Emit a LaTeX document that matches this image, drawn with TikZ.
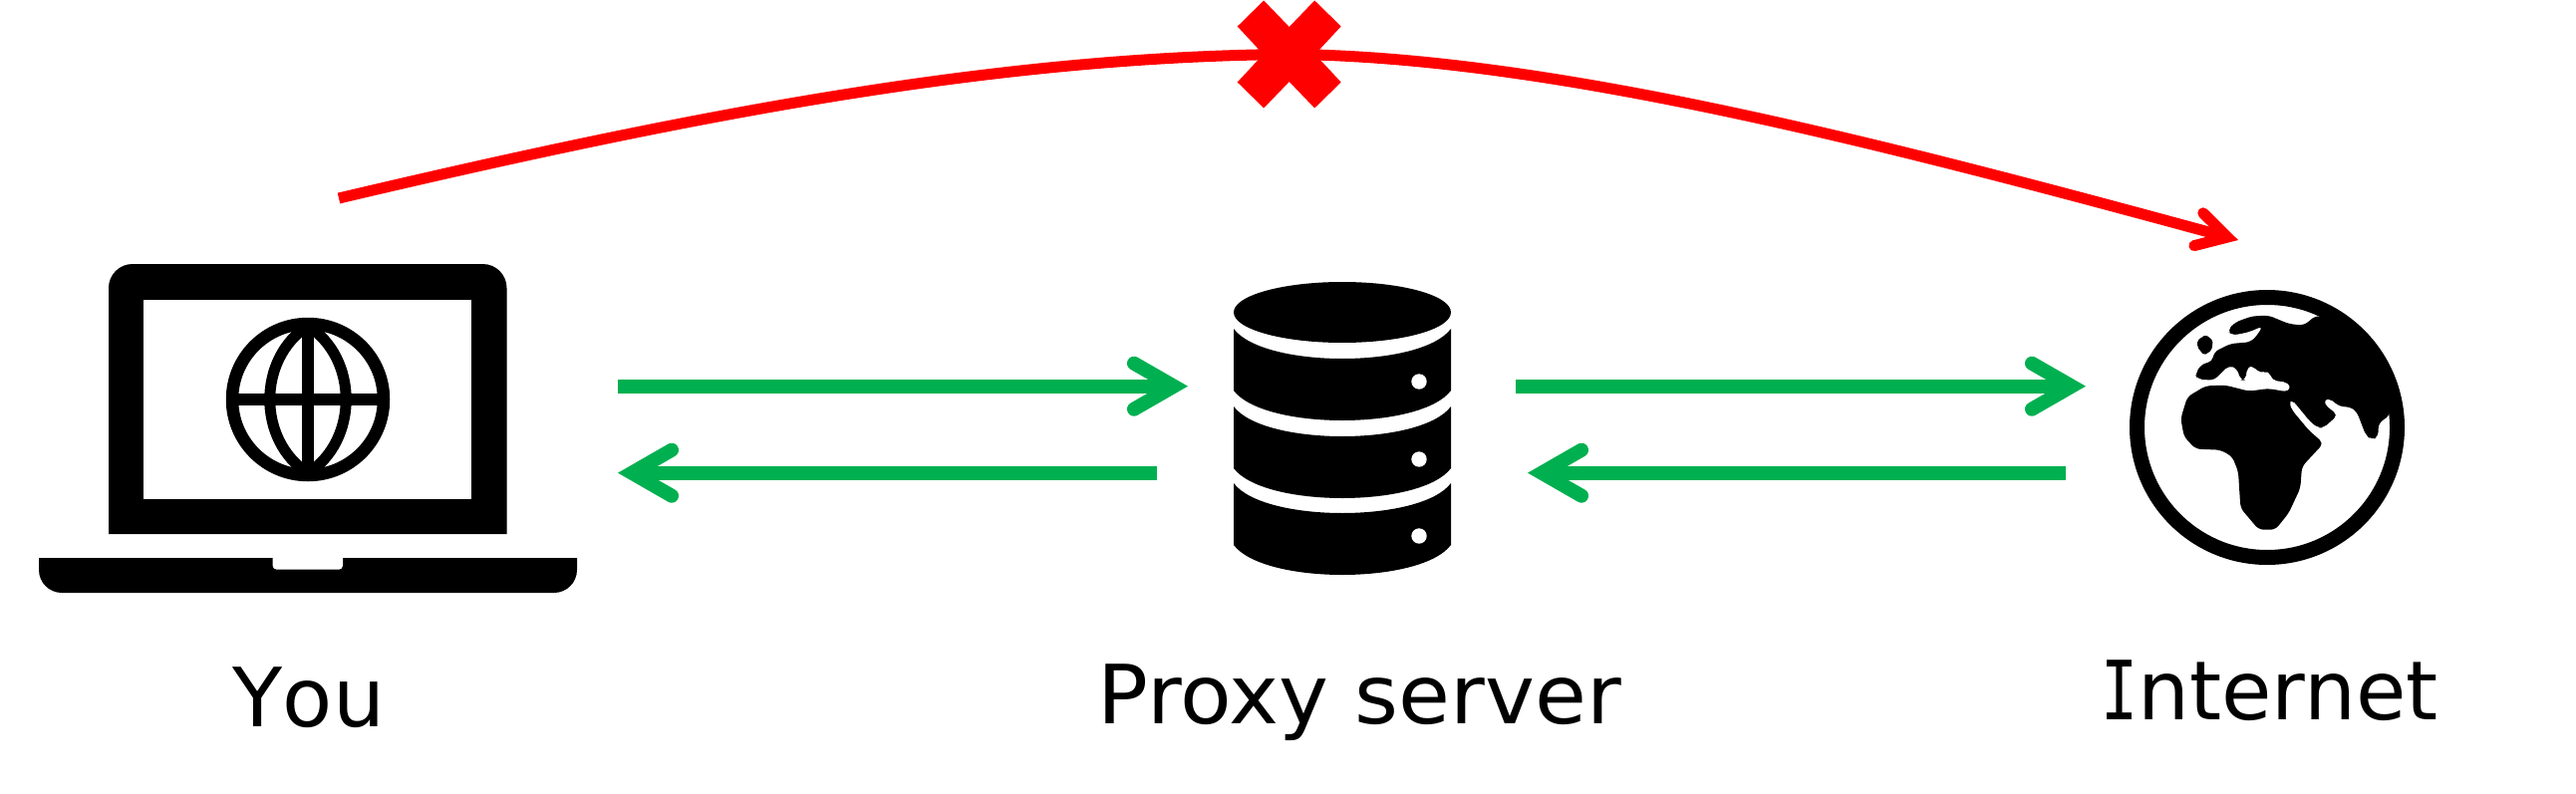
\documentclass[tikz,border=0pt]{standalone}
\usepackage{fontspec}
\usepackage{tikz}
\usetikzlibrary{arrows.meta}
\setmainfont{DejaVu Sans}
\newfontfamily\serifi{DejaVu Sans Mono}
\newfontfamily\widesans[FakeStretch=1.03]{DejaVu Sans}
\newfontfamily\openysans[Kerning=Off]{DejaVu Sans}
\definecolor{linkgreen}{HTML}{00B050}
\tikzset{
    caption/.style={anchor=base,inner sep=0pt,font=\fontsize{82}{90}\selectfont},
    greenlink/.style={draw=linkgreen,line width=14pt,-{Straight Barb[length=40pt,width=46pt,line cap=round]}},
    redlink/.style={draw=red,line width=11pt,-{Straight Barb[length=30pt,width=34pt,line cap=round]}},
}

\begin{document}
\begin{tikzpicture}[x=1pt,y=-1pt]
        \useasboundingbox (0,0) rectangle (2585,797);
        % Define the nodes
        \node[caption] (you)      at (310,729)  {\openysans You};
        \node[caption] (proxy)    at (1364.5,726) {\widesans Proxy server};
        \node[caption] (internet) at (2277.5,722) {\scalebox{0.75}[1]{\serifi I}nternet};
        \coordinate (youout)    at (620,387.7);
        \coordinate (proxyin)   at (1192,387.7);
        \coordinate (proxyback) at (1160.6,474.7);
        \coordinate (youin)     at (620,474.7);
        \coordinate (proxyout)  at (1521,387.7);
        \coordinate (netin)     at (2093,387.7);
        \coordinate (netback)   at (2073,474.7);
        \coordinate (proxyret)  at (1533,474.7);
        \coordinate (direct)    at (340,199);
        \coordinate (blocked)   at (1293.7,54.5);
        \coordinate (netdirect) at (2246,241);
        % Laptop
        \fill (109,536) [rounded corners=24pt] -- (109,265) -- (508.5,265) [sharp corners] -- (508.5,536) -- cycle;
        \fill[white] (144,301) rectangle (473,500.7);
        \fill (39,560) -- (579,560) [rounded corners=23pt] -- (579,595) -- (39,595) [sharp corners] -- cycle;
        \fill[white,rounded corners=4pt] (273.6,550) rectangle (344,571.7);
        \draw[line width=12.5pt] (309,401) circle [radius=76];
        \draw[line width=11pt] (309,327) .. controls (258,360) and (258,442) .. (309,475)
            .. controls (360,442) and (360,360) .. (309,327);
        \draw[line width=12pt] (309,325) -- (309,477);
        \draw[line width=11.7pt] (233,401) -- (385,401);
        % Server
        \fill (1347,313.5) ellipse [x radius=109,y radius=30.5];
        \foreach \ytop/\ybot/\ydot in {330/392/383,408/470/461,485/547/538}{
            \fill (1238,\ytop) .. controls (1268,\ytop+40) and (1426,\ytop+40) .. (1456,\ytop)
                -- (1456,\ybot) .. controls (1426,\ybot+40) and (1268,\ybot+40) .. (1238,\ybot) -- cycle;
            \fill[white] (1424,\ydot) circle [radius=7.7];
        }
        % Earth
        \draw[line width=15pt] (2275,429) circle [radius=130.5];
        \begin{scope}[shift={(2100,190)},scale=1/3]
            \fill[rounded corners=5pt] (405,425) -- (430,400) -- (480,382) -- (530,380) -- (590,405) -- (635,410) -- (675,378)
                -- (740,405) -- (780,440) -- (840,505) -- (880,570) -- (895,640) -- (895,680) -- (860,705) -- (860,745) -- (840,755)
                -- (822,740) -- (795,670) -- (775,655) -- (745,655) -- (710,628) -- (695,635) -- (700,650) -- (738,680) -- (695,718)
                -- (678,718) -- (655,700) -- (610,645) -- (598,632) -- (590,640) -- (600,665) -- (650,725) -- (695,765) -- (630,835)
                -- (625,900) -- (590,975) -- (550,1025) -- (500,1025) -- (445,960) -- (438,850) -- (420,805) -- (385,785) -- (310,782)
                -- (275,745) -- (265,690) -- (285,625) -- (340,592) -- (400,590) -- (470,608) -- (530,600) -- (585,610) -- (597,600)
                -- (590,582) -- (540,575) -- (530,545) -- (505,555) -- (480,530) -- (465,535) -- (460,575) -- (445,575) -- (435,540)
                -- (410,530) -- (365,575) -- (315,572) -- (308,555) -- (330,525) -- (360,520) -- (365,490) -- (415,465) -- (475,460)
                -- (495,440) -- (512,412) -- (470,430) -- (420,440) -- cycle;
            \fill[rounded corners=2pt] (315,455) -- (340,438) -- (362,455) -- (358,485) -- (335,500) -- (315,475) -- cycle;
        \end{scope}
        % Connect the nodes
        \draw[greenlink] (youout) -- (proxyin);
        \draw[greenlink] (proxyback) -- (youin);
        \draw[greenlink] (proxyout) -- (netin);
        \draw[greenlink] (netback) -- (proxyret);
        \draw[redlink] (direct) .. controls (700,114) and (1000,57) .. (blocked)
            .. controls (1560,57) and (1900,147) .. (netdirect);
        % Cross on the direct route
        \begin{scope}[shift={(blocked)}]
            \fill[red] (0,-27.5) -- (25.5,-54) -- (52,-28) -- (26,0) -- (52,28) -- (25.5,54) -- (0,27.5)
                -- (-25.5,54) -- (-52,28) -- (-26,0) -- (-52,-28) -- (-25.5,-54) -- cycle;
        \end{scope}
    \end{tikzpicture}
\end{document}
